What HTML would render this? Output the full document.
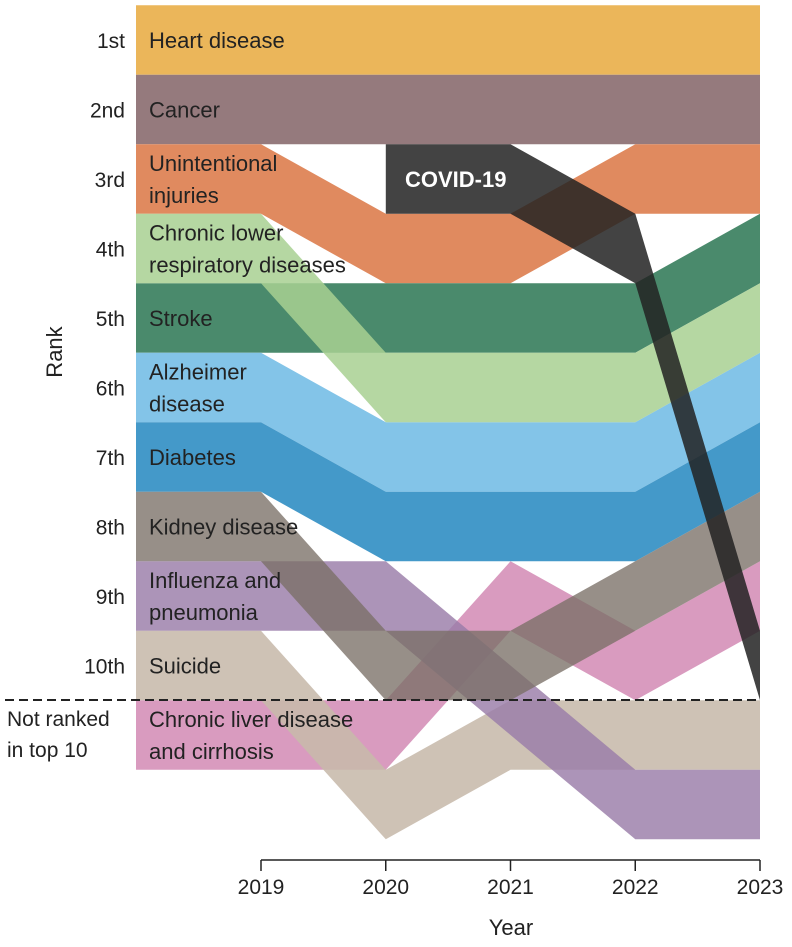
<!DOCTYPE html>
<html><head><meta charset="utf-8"><style>
body{margin:0;background:#fff;}
svg text{font-family:"Liberation Sans",sans-serif;fill:#222;}
</style></head><body>
<svg id="chart" width="792" height="942" viewBox="0 0 792 942" xmlns="http://www.w3.org/2000/svg">
<g id="bands"></g>
<line x1="5" y1="700" x2="760" y2="700" stroke="#222" stroke-width="2" stroke-dasharray="9,5"/>
<g id="labels"></g>
<g id="ranks"></g>
<text x="7" y="726" font-size="21">Not ranked</text>
<text x="7" y="757" font-size="21">in top 10</text>
<text x="62" y="352" font-size="22" text-anchor="middle" transform="rotate(-90 62 352)">Rank</text>
<line x1="261" y1="860" x2="760" y2="860" stroke="#222" stroke-width="1.5"/>
<g id="xticks"></g>
<text x="511" y="935" font-size="22" text-anchor="middle">Year</text>
</svg>
<script>
const years = [2019, 2020, 2021, 2022, 2023];
const rankLabels = ["1st","2nd","3rd","4th","5th","6th","7th","8th","9th","10th"];
const heart = [1,1,1,1,1];
const cancer = [2,2,2,2,2];
const injuries = [3,4,4,3,3];
const stroke = [5,5,5,5,4];
const alzheimer = [6,7,7,7,6];
const diabetes = [7,8,8,8,7];
const liver = [11,11,9,10,9];
const suicide = [10,12,11,11,11];
const influenza = [9,9,10.5,12,12];
const kidney = [8,10,10,9,8];
const clrd = [4,6,6,6,5];
const covid = [null,3,3,4,10];

const NS = "http://www.w3.org/2000/svg";
const rowH = 69.5, top0 = 5.3;
const xScale = y => 261 + (y - 2019) * 124.75;
const yTop = r => top0 + (r - 1) * rowH;

function bandPts(vals) {
  let first = vals.findIndex(v => v !== null);
  const topE = [], botE = [];
  if (first === 0) { topE.push([136, yTop(vals[0])]); botE.push([136, yTop(vals[0]) + rowH]); }
  for (let i = first; i < vals.length; i++) {
    const x = xScale(years[i]);
    topE.push([x, yTop(vals[i])]); botE.push([x, yTop(vals[i]) + rowH]);
  }
  return topE.concat(botE.reverse()).map(p => p[0].toFixed(1) + "," + p[1].toFixed(1)).join(" ");
}

const series = [
  ["heart-disease-band", heart, "#ebb65a", 1],
  ["cancer-band", cancer, "#957a7d", 1],
  ["unintentional-injuries-band", injuries, "#e08a5f", 1],
  ["stroke-band", stroke, "#4a8a6c", 1],
  ["alzheimer-band", alzheimer, "#83c4e8", 1],
  ["diabetes-band", diabetes, "#4499c9", 1],
  ["chronic-liver-disease-band", liver, "#d590b8", 0.9],
  ["suicide-band", suicide, "#c7b9ab", 0.88],
  ["influenza-pneumonia-band", influenza, "#9a7da8", 0.82],
  ["kidney-disease-band", kidney, "#7a6f66", 0.78],
  ["chronic-lower-respiratory-band", clrd, "#a8d092", 0.85],
  ["covid-19-band", covid, "#222222", 0.85]
];
const g = document.getElementById("bands");
series.forEach(s => {
  const p = document.createElementNS(NS, "polygon");
  p.setAttribute("points", bandPts(s[1]));
  p.setAttribute("fill", s[2]);
  p.setAttribute("fill-opacity", s[3]);
  
  
  g.appendChild(p);
});

const labels = [
  ["Heart disease", 1, null],
  ["Cancer", 2, null],
  ["Unintentional", 3, "injuries"],
  ["Chronic lower", 4, "respiratory diseases"],
  ["Stroke", 5, null],
  ["Alzheimer", 6, "disease"],
  ["Diabetes", 7, null],
  ["Kidney disease", 8, null],
  ["Influenza and", 9, "pneumonia"],
  ["Suicide", 10, null],
  ["Chronic liver disease", 11, "and cirrhosis"]
];
const lg = document.getElementById("labels");
labels.forEach(l => {
  const c = yTop(l[1]) + rowH / 2;
  const lines = l[2] ? [[l[0], c - 8], [l[2], c + 24]] : [[l[0], c + 8]];
  lines.forEach(ln => {
    const t = document.createElementNS(NS, "text");
    t.setAttribute("x", 149); t.setAttribute("y", ln[1]);
    t.setAttribute("font-size", "22");
    t.textContent = ln[0];
    
    
    lg.appendChild(t);
  });
});
const ct = document.createElementNS(NS, "text");
ct.setAttribute("x", 405); ct.setAttribute("y", 187);
ct.setAttribute("font-size", "22"); ct.setAttribute("font-weight", "bold");
ct.setAttribute("style", "fill:#fff");
ct.textContent = "COVID-19";


lg.appendChild(ct);

const rg = document.getElementById("ranks");
rankLabels.forEach((r, i) => {
  const t = document.createElementNS(NS, "text");
  t.setAttribute("x", 125); t.setAttribute("y", yTop(i + 1) + rowH / 2 + 8);
  t.setAttribute("font-size", "21"); t.setAttribute("text-anchor", "end");
  t.textContent = r;
  
  
  rg.appendChild(t);
});
const xg = document.getElementById("xticks");
years.forEach(y => {
  const x = xScale(y);
  const l = document.createElementNS(NS, "line");
  l.setAttribute("x1", x); l.setAttribute("x2", x);
  l.setAttribute("y1", 860); l.setAttribute("y2", 871);
  l.setAttribute("stroke", "#222"); l.setAttribute("stroke-width", "1.5");
  
  
  xg.appendChild(l);
  const t = document.createElementNS(NS, "text");
  t.setAttribute("x", x); t.setAttribute("y", 894);
  t.setAttribute("font-size", "21"); t.setAttribute("text-anchor", "middle");
  t.textContent = y;
  
  
  xg.appendChild(t);
});
</script>
</body></html>
